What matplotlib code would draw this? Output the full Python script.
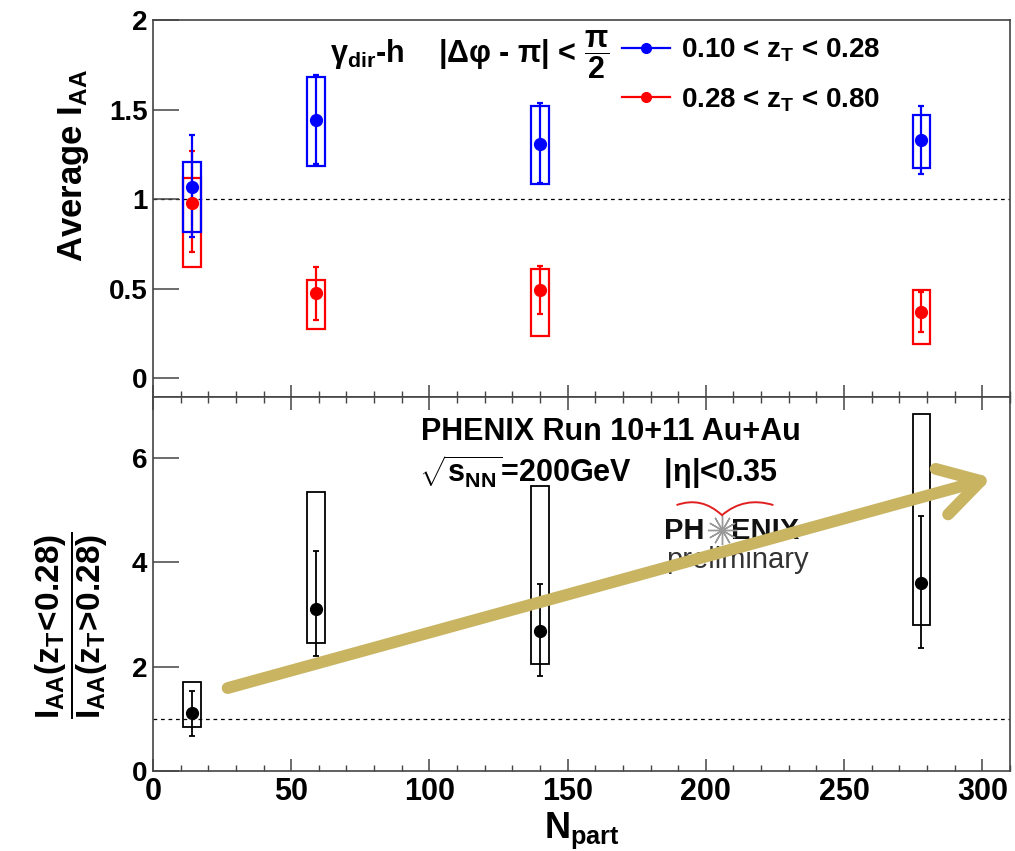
import numpy as np
import matplotlib
matplotlib.use("Agg")
import matplotlib.pyplot as plt
from matplotlib.lines import Line2D
from matplotlib.path import Path
from matplotlib.patches import PathPatch
from matplotlib.ticker import MultipleLocator, FormatStrFormatter

plt.rcParams['font.family'] = ['Liberation Sans', 'DejaVu Sans']
plt.rcParams['font.weight'] = 'bold'
plt.rcParams['axes.labelweight'] = 'bold'
plt.rcParams['mathtext.fontset'] = 'custom'
plt.rcParams['mathtext.rm'] = 'Liberation Sans:bold'
plt.rcParams['mathtext.it'] = 'Liberation Sans:bold'
plt.rcParams['mathtext.bf'] = 'Liberation Sans:bold'
plt.rcParams['mathtext.default'] = 'rm'

# centrality points
npart = np.array([14, 59, 140, 278])

# top panel: 0.10 < zT < 0.28
blue_val = np.array([1.068, 1.439, 1.309, 1.331])
blue_stat_hi = np.array([1.356, 1.693, 1.535, 1.520])
blue_stat_lo = np.array([0.785, 1.198, 1.091, 1.141])
blue_sys_hi = np.array([1.204, 1.683, 1.519, 1.470])
blue_sys_lo = np.array([0.818, 1.183, 1.085, 1.174])

# top panel: 0.28 < zT < 0.80
red_val = np.array([0.980, 0.474, 0.493, 0.368])
red_stat_hi = np.array([1.267, 0.622, 0.628, 0.480])
red_stat_lo = np.array([0.706, 0.326, 0.359, 0.257])
red_sys_hi = np.array([1.117, 0.546, 0.609, 0.493])
red_sys_lo = np.array([0.618, 0.276, 0.235, 0.189])

# bottom panel: ratio
ratio_val = np.array([1.11, 3.10, 2.69, 3.61])
ratio_stat_hi = np.array([1.54, 4.22, 3.59, 4.89])
ratio_stat_lo = np.array([0.68, 2.20, 1.83, 2.35])
ratio_sys_hi = np.array([1.71, 5.34, 5.47, 6.85])
ratio_sys_lo = np.array([0.84, 2.46, 2.05, 2.79])

legend_labels = ['0.10 < z$_T$ < 0.28', '0.28 < z$_T$ < 0.80']

box_w = 6.4
frame_col = '#444444'
gold = '#C8B461'

fig = plt.figure(figsize=(10.15, 8.51), dpi=100)
ax1 = fig.add_axes([0.1507, 0.5335, 0.8443, 0.4430])
ax2 = fig.add_axes([0.1507, 0.0940, 0.8443, 0.4395])


def draw_series(ax, val, shi, slo, yhi, ylo, color, ms=8.5, lw=1.6):
    ax.bar(npart, yhi - ylo, bottom=ylo, width=box_w, fill=False,
           edgecolor=color, linewidth=lw, zorder=3)
    ax.errorbar(npart, val, yerr=[val - slo, shi - val], fmt='o', color=color,
                ms=ms, elinewidth=lw, capsize=2, capthick=lw, zorder=4)


draw_series(ax1, red_val, red_stat_hi, red_stat_lo, red_sys_hi, red_sys_lo, '#FF0000')
draw_series(ax1, blue_val, blue_stat_hi, blue_stat_lo, blue_sys_hi, blue_sys_lo, '#0000FF')
draw_series(ax2, ratio_val, ratio_stat_hi, ratio_stat_lo, ratio_sys_hi, ratio_sys_lo,
            'black', ms=8.5, lw=1.3)

for ax in (ax1, ax2):
    ax.axhline(1.0, color='black', linestyle=(0, (3, 3)), linewidth=0.9, zorder=1)
    ax.set_xlim(0, 310)
    ax.xaxis.set_major_locator(MultipleLocator(50))
    ax.xaxis.set_minor_locator(MultipleLocator(10))
    for sp in ax.spines.values():
        sp.set_color(frame_col)
        sp.set_linewidth(1.2)
    ax.tick_params(axis='x', which='major', direction='in', length=9, width=1.1,
                   color=frame_col)
    ax.tick_params(axis='x', which='minor', direction='in', length=4.5, width=1.0,
                   color=frame_col)
    ax.tick_params(axis='y', which='major', direction='in', length=19, width=1.1,
                   color=frame_col, labelsize=20, pad=4)

ax1.set_ylim(-0.106, 2.0)
ax1.yaxis.set_major_locator(MultipleLocator(0.5))
ax1.yaxis.set_major_formatter(FormatStrFormatter('%g'))
ax1.tick_params(axis='x', which='both', labelbottom=False)

ax2.set_ylim(0, 7.17)
ax2.yaxis.set_major_locator(MultipleLocator(2))
ax2.tick_params(axis='x', which='both', top=True, labelsize=22, pad=4)

ax1.set_ylabel('Average I$_{AA}$', fontsize=25)
ax1.yaxis.set_label_coords(-0.072, 0.615)
ax2.set_ylabel(r'$\dfrac{I_{AA}(z_T\!<\!0.28)}{I_{AA}(z_T\!>\!0.28)}$', fontsize=24)
ax2.yaxis.set_label_coords(-0.05, 0.39)
ax2.set_xlabel('N$_{part}$', fontsize=26, labelpad=3)

# top panel annotation + legend
ax1.text(0.2065, 0.907, r'γ$_{dir}$-h    |Δφ - π| < $\dfrac{π}{2}$',
         transform=ax1.transAxes, fontsize=22, ha='left', va='center')
handles = [Line2D([], [], color='#0000FF', marker='o', ms=7, lw=1.6),
           Line2D([], [], color='#FF0000', marker='o', ms=7, lw=1.6)]
ax1.legend(handles, legend_labels, loc='upper left', bbox_to_anchor=(0.547, 0.955),
           frameon=False, fontsize=20, handlelength=1.75, handletextpad=0.4,
           labelspacing=0.78, borderpad=0, borderaxespad=0)

# bottom panel text
ax2.text(0.534, 0.906, 'PHENIX Run 10+11 Au+Au', transform=ax2.transAxes,
         fontsize=22, ha='center', va='center')
ax2.text(0.520, 0.800, r'$\sqrt{s_{NN}}$=200GeV    |η|<0.35', transform=ax2.transAxes,
         fontsize=22, ha='center', va='center')

# PHENIX preliminary logo
ax2.text(0.596, 0.643, 'PH', transform=ax2.transAxes, fontsize=21,
         ha='left', va='center', color='#111111', zorder=2)
ax2.text(0.674, 0.643, 'ENIX', transform=ax2.transAxes, fontsize=21,
         ha='left', va='center', color='#111111', zorder=2)
ax2.plot([0.664], [0.645], transform=ax2.transAxes, marker=(12, 2, 0), ms=21,
         mec='#999999', mew=1.0, zorder=2)
ax2.text(0.682, 0.564, 'preliminary', transform=ax2.transAxes, fontsize=21,
         fontweight='normal', ha='center', va='center', color='#333333', zorder=2)
arc = Path([(0.611, 0.711), (0.640, 0.735), (0.664, 0.684),
            (0.690, 0.735), (0.724, 0.711)],
           [Path.MOVETO, Path.CURVE3, Path.CURVE3, Path.CURVE3, Path.CURVE3])
ax2.add_patch(PathPatch(arc, transform=ax2.transAxes, fill=False,
                        edgecolor='#E02020', linewidth=1.4, zorder=2))

# trend arrow
ax2.annotate('', xy=(303.5, 5.62), xytext=(27.0, 1.59),
             arrowprops=dict(arrowstyle='->,head_length=1.45,head_width=0.85',
                             color=gold, lw=8.5, shrinkA=0, shrinkB=0,
                             mutation_scale=20, capstyle='round',
                             joinstyle='round'),
             zorder=6)

fig.savefig('out.png', dpi=100)
